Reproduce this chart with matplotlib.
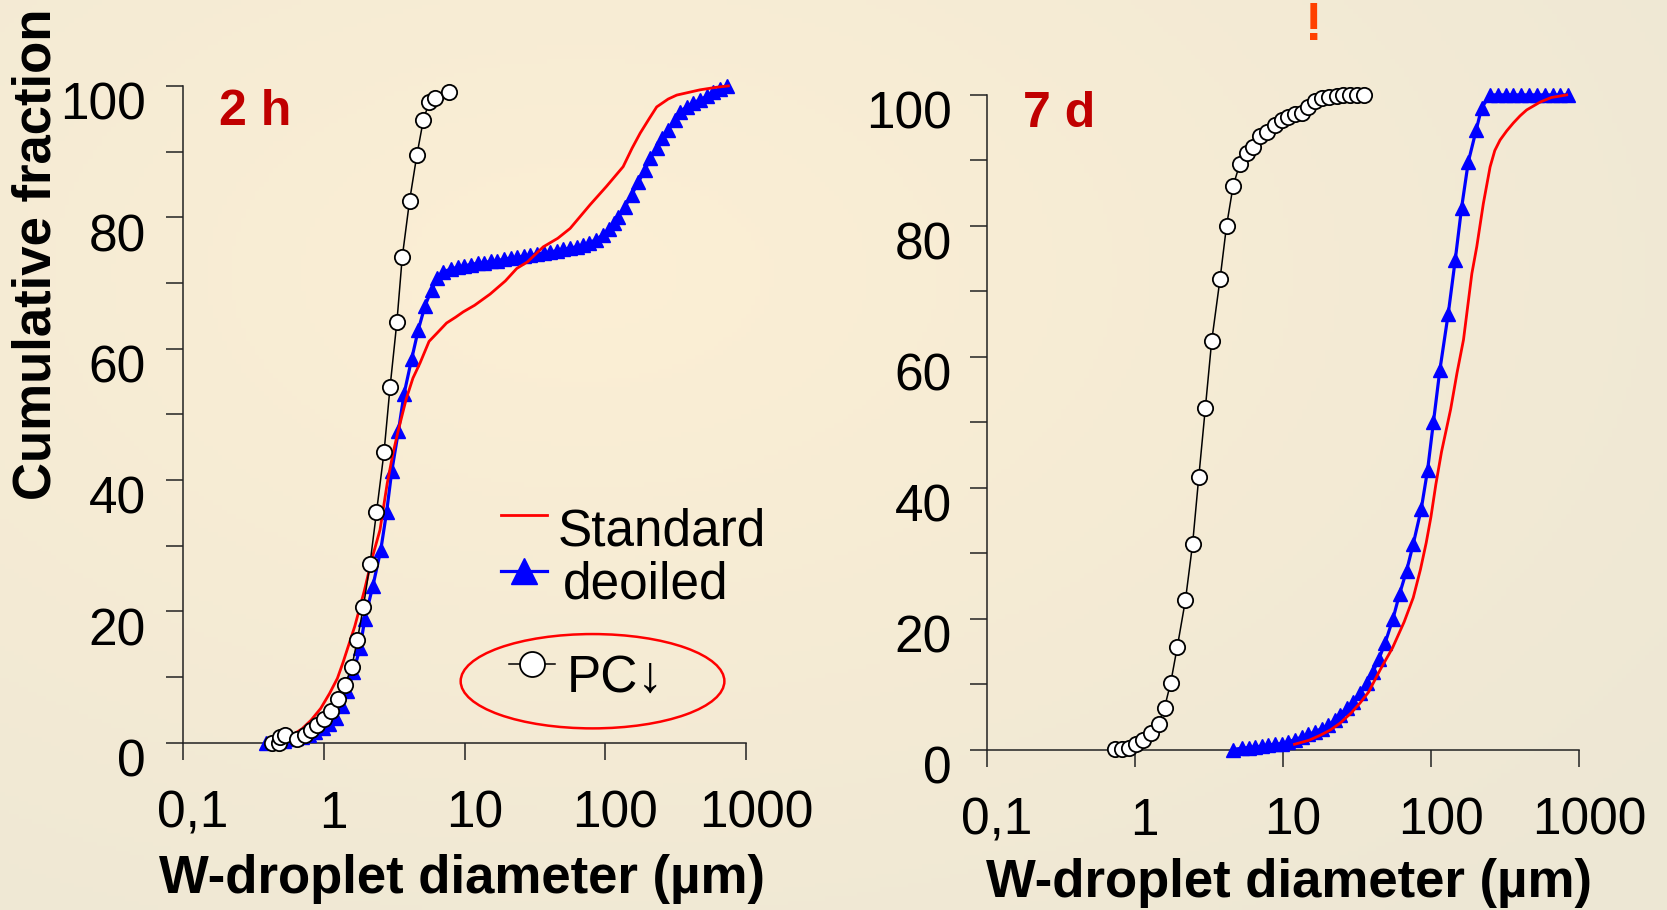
import numpy as np
import matplotlib.pyplot as plt
import matplotlib.transforms as mtransforms
from matplotlib.patches import Ellipse
from matplotlib.lines import Line2D
from matplotlib.ticker import NullLocator

plt.rcParams['font.family'] = ['Liberation Sans', 'DejaVu Sans']

# === data: 2 h ===
pc_2h_d = [0.43, 0.48, 0.49, 0.53, 0.65, 0.73, 0.81, 0.90, 1.00, 1.12, 1.27, 1.42, 1.58, 1.73,
           1.91, 2.13, 2.37, 2.68, 2.96, 3.31, 3.61, 4.07, 4.59, 5.10, 5.60, 6.22, 7.74]
pc_2h_v = [0.0, 0.0, 0.8, 1.2, 0.5, 1.2, 1.9, 2.7, 3.6, 4.9, 6.6, 8.8, 11.5, 15.6,
           20.6, 27.2, 35.1, 44.2, 54.2, 64.1, 73.9, 82.5, 89.5, 94.8, 97.5, 98.2, 99.0]

deo_2h_d = [0.389, 0.43, 0.47, 0.52, 0.58, 0.64, 0.70, 0.78, 0.87, 0.98, 1.09, 1.22, 1.34, 1.46,
            1.62, 1.81, 1.96, 2.23, 2.54, 2.80, 3.04, 3.39, 3.72, 4.21, 4.70, 5.24, 5.84, 6.41,
            7.07, 7.97, 8.95, 9.98, 11.1, 12.4, 13.8, 15.4, 17.1, 19.1, 21.3, 23.7, 26.4, 29.4,
            32.8, 36.5, 40.5, 45.2, 50.4, 56.2, 62.6, 69.8, 77.1, 86.0, 96.0, 106, 115, 124,
            138, 154, 172, 192, 208, 232, 252, 281, 313, 340, 379, 423, 471, 526, 586, 653, 729]
deo_2h_v = [0, 0.1, 0.2, 0.3, 0.5, 0.7, 0.9, 1.2, 1.6, 2.2, 2.9, 3.7, 5.6, 7.8,
            10.7, 14.4, 18.9, 23.8, 29.3, 35.2, 41.3, 47.4, 53.1, 58.4, 62.9, 66.5, 69.0, 70.7,
            71.7, 72.1, 72.4, 72.6, 72.8, 73.0, 73.1, 73.3, 73.4, 73.6, 73.8, 73.9, 74.1, 74.2,
            74.4, 74.5, 74.7, 74.9, 75.1, 75.3, 75.5, 75.8, 76.1, 76.6, 77.3, 78.2, 79.2, 80.1,
            81.6, 83.4, 85.4, 87.2, 89.0, 90.5, 92.0, 93.3, 94.8, 96.1, 96.8, 97.4, 97.9, 98.4, 99.1, 99.6, 100]

std_2h_d = [0.53, 0.60, 0.70, 0.81, 0.95, 1.10, 1.25, 1.37, 1.50, 1.66, 1.94, 2.20, 2.51, 2.82,
            3.10, 3.39, 3.85, 4.30, 4.83, 5.60, 6.34, 7.46, 8.67, 9.80, 11.8, 15.2, 19.5, 23.5,
            28.0, 36.3, 46.0, 56.3, 78.0, 102, 134, 155, 177, 205, 232, 280, 322, 471, 620, 750]
std_2h_v = [0.5, 1.2, 2.1, 3.4, 5.2, 7.5, 9.8, 12.2, 14.8, 17.7, 23.1, 28.0, 32.4, 39.4,
            44.0, 47.6, 52.3, 55.5, 57.8, 61.1, 62.3, 63.9, 64.8, 65.6, 66.6, 68.3, 70.3, 72.2,
            73.2, 75.5, 76.8, 78.3, 81.9, 84.7, 87.7, 90.5, 92.8, 95.0, 96.8, 98.0, 98.6, 99.4, 99.8, 100]

# === data: 7 d ===
pc_7d_d = [0.74, 0.82, 0.92, 1.02, 1.14, 1.28, 1.45, 1.59, 1.75, 1.94, 2.20, 2.46, 2.71, 3.00,
           3.31, 3.77, 4.17, 4.62, 5.13, 5.70, 6.32, 7.02, 7.79, 8.85, 9.83, 10.9, 12.1, 13.4,
           14.9, 16.5, 18.3, 20.6, 23.1, 25.6, 28.4, 31.6, 35.3]
pc_7d_v = [0.1, 0.1, 0.3, 0.8, 1.5, 2.5, 3.9, 6.4, 10.2, 15.7, 22.8, 31.4, 41.7, 52.2,
           62.4, 71.9, 80.0, 86.1, 89.5, 91.2, 92.1, 93.7, 94.4, 95.4, 96.1, 96.7, 97.1, 97.3,
           98.2, 99.1, 99.5, 99.7, 99.9, 100, 100, 100, 100]

deo_7d_d = [4.6, 5.3, 5.9, 6.5, 7.2, 8.0, 8.9, 9.8, 10.9, 12.1, 13.4, 14.9, 16.5, 18.3, 20.3,
            22.5, 24.3, 27.0, 29.9, 33.2, 36.9, 40.5, 44.5, 49.1, 55.5, 61.5, 68.5, 76.0, 86.0,
            95.0, 104, 115, 131, 146, 161, 179, 202, 220, 251, 283, 320, 361, 407, 461, 520,
            586, 664, 748, 843]
deo_7d_v = [0, 0.2, 0.3, 0.4, 0.5, 0.7, 0.8, 0.9, 1.2, 1.5, 1.9, 2.3, 2.7, 3.2, 3.7,
            4.5, 5.3, 6.3, 7.3, 8.6, 10.1, 11.8, 13.8, 16.3, 20.0, 23.8, 27.3, 31.4, 36.7,
            42.7, 50.0, 58.0, 66.6, 74.8, 82.7, 89.8, 94.6, 98.0, 100, 100, 100, 100, 100, 100, 100,
            100, 100, 100, 100]

std_7d_d = [12, 15, 18, 21, 24.3, 29, 33.5, 38, 45.5, 55, 66, 76, 85, 93, 100, 108, 118, 136,
            150, 166, 189, 204, 226, 251, 270, 293, 325, 360, 400, 443, 546, 650, 826]
std_7d_v = [0.8, 1.4, 2.2, 3.0, 4.0, 5.6, 7.2, 8.8, 12.2, 15.5, 19.5, 23.2, 27.5, 31.6, 35.5,
            40.5, 45.5, 52.0, 57.5, 62.6, 72.7, 76.8, 83.4, 89.0, 91.5, 93.1, 94.5, 95.7, 96.8,
            97.7, 98.9, 99.6, 100]

x_ticks = [0.1, 1, 10, 100, 1000]
x_labels = ['0,1', '1', '10', '100', '1000']
y_ticks = [0, 20, 40, 60, 80, 100]
y_minor = [10, 30, 50, 70, 90]

W, H = 1667, 910
fig = plt.figure(figsize=(W / 100, H / 100), dpi=100)

# --- background gradient ---
bg = fig.add_axes([0, 0, 1, 1], zorder=-10)
yy, xx = np.mgrid[0:1:200j, 0:1:360j]
dist = np.sqrt((xx - 0.35) ** 2 + ((yy - 0.3) * 0.9) ** 2)
t = np.clip(dist / 0.85, 0, 1)[..., None]
c_in = np.array([252, 239, 213]) / 255
c_out = np.array([237, 231, 212]) / 255
bg.imshow(c_in * (1 - t) + c_out * t, aspect='auto', extent=[0, 1, 1, 0])
bg.axis('off')

axL = fig.add_axes([183 / W, 1 - 742.7 / H, 563 / W, 656.8 / H])
axR = fig.add_axes([986.6 / W, 1 - 749.5 / H, 592.4 / W, 654.6 / H])

spine_c = '#222222'


def style(ax, ypad):
    ax.set_facecolor('none')
    ax.set_xscale('log')
    ax.set_xlim(0.1, 1000)
    ax.set_ylim(0, 100)
    for s in ['top', 'right']:
        ax.spines[s].set_visible(False)
    for s in ['left', 'bottom']:
        ax.spines[s].set_linewidth(1.1)
        ax.spines[s].set_color(spine_c)
    ax.set_xticks(x_ticks)
    ax.set_xticklabels(x_labels)
    ax.xaxis.set_minor_locator(NullLocator())
    ax.set_yticks(y_ticks)
    ax.set_yticklabels([str(v) for v in y_ticks])
    ax.set_yticks(y_minor, minor=True)
    ax.tick_params(axis='both', which='both', direction='out', length=12,
                   width=1.1, color=spine_c)
    ax.tick_params(axis='x', labelsize=37, pad=22)
    ax.tick_params(axis='y', labelsize=37, pad=ypad)
    dx = mtransforms.ScaledTranslation(0.10, 0, fig.dpi_scale_trans)
    for lab in ax.get_xticklabels():
        lab.set_transform(lab.get_transform() + dx)
    dy = mtransforms.ScaledTranslation(0, -0.15, fig.dpi_scale_trans)
    for lab in ax.get_yticklabels():
        lab.set_transform(lab.get_transform() + dy)


style(axL, 15)
style(axR, 13)

deo_kw = dict(color='#0000FF', lw=2.3, marker='^', ms=10.5, mec='#0000FF', clip_on=False, zorder=3)
std_kw = dict(color='#FF0000', lw=2.0, clip_on=False, zorder=4)
pc_kw = dict(color='black', lw=1.1, marker='o', ms=11, mfc='white', mec='black', mew=1.3,
             clip_on=False, zorder=5)

axL.plot(deo_2h_d, deo_2h_v, **deo_kw)
axL.plot(std_2h_d, std_2h_v, **std_kw)
axL.plot(pc_2h_d, pc_2h_v, **pc_kw)

axR.plot(deo_7d_d, deo_7d_v, **deo_kw)
axR.plot(std_7d_d, std_7d_v, **std_kw)
axR.plot(pc_7d_d, pc_7d_v, **pc_kw)

# --- legend (hand placed, as in the slide) ---
T = axL.transAxes
axL.add_line(Line2D([0.565, 0.647], [0.347, 0.347], color='#FF0000', lw=2.0, transform=T, clip_on=False))
axL.text(0.666, 0.2995, 'Standard', transform=T, fontsize=37, va='baseline', ha='left')
axL.add_line(Line2D([0.565, 0.647], [0.261, 0.261], color='#0000FF', lw=2.3, transform=T, clip_on=False))
axL.add_line(Line2D([0.606], [0.261], marker='^', ms=19, color='#0000FF', transform=T, clip_on=False))
axL.text(0.675, 0.2188, 'deoiled', transform=T, fontsize=37, va='baseline', ha='left')
axL.add_line(Line2D([0.579, 0.661], [0.12, 0.12], color='black', lw=1.1, transform=T, clip_on=False))
axL.add_line(Line2D([0.620], [0.12], marker='o', ms=18, mfc='white', mec='black', mew=1.3,
                    transform=T, clip_on=False))
axL.text(0.682, 0.0772, 'PC↓', transform=T, fontsize=37, va='baseline', ha='left')
axL.add_patch(Ellipse((0.7274, 0.0936), 0.4684, 0.1436, transform=T, fill=False,
                      edgecolor='#FF0000', lw=1.8, clip_on=False))

# --- texts ---
fig.text(219 / W, 1 - 124.7 / H, '2 h', color='#C00000', fontsize=36, fontweight='bold', va='baseline')
fig.text(1023 / W, 1 - 127 / H, '7 d', color='#C00000', fontsize=36, fontweight='bold', va='baseline')
fig.text(1314 / W, 1 - 40 / H, '!', color='#FF4000', fontsize=38, fontweight='bold',
         ha='center', va='baseline')
fig.text(37 / W, 1 - 500 / H, 'Cumulative fraction', rotation=90, fontsize=38,
         fontweight='bold', ha='center', va='bottom')
fig.text(462 / W, 1 - 893 / H, 'W-droplet diameter (µm)', fontsize=38, fontweight='bold',
         ha='center', va='baseline')
fig.text(1289 / W, 1 - 897 / H, 'W-droplet diameter (µm)', fontsize=38, fontweight='bold',
         ha='center', va='baseline')

fig.savefig('out.png', dpi=100)
